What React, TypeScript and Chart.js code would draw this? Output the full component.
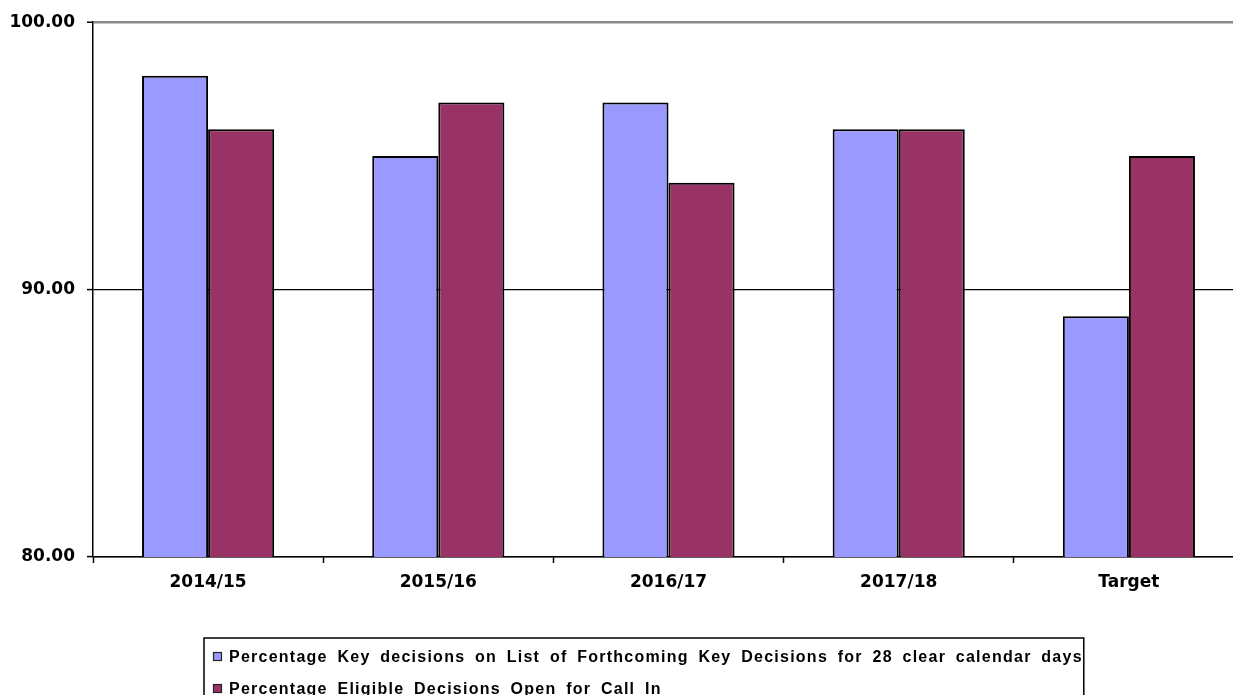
import React, { useEffect, useRef } from "react";
import { Chart, registerables, Plugin } from "chart.js";

Chart.register(...registerables);

const categories = ["2014/15", "2015/16", "2016/17", "2017/18", "Target"];
const keyDecisionsPct = [98, 95, 97, 96, 89];
const callInPct = [96, 97, 94, 96, 95];
const seriesLabels = [
  "Percentage Key decisions on List of Forthcoming Key Decisions for 28 clear calendar days",
  "Percentage Eligible Decisions Open for Call In",
];
const seriesColors = ["#9999FF", "#993366"];
const yMin = 80;
const yMax = 100;
const yStep = 10;

// Boxed legend drawn under the axis, one series per row.
const boxedLegend: Plugin<"bar"> = {
  id: "boxedLegend",
  afterDraw(chart) {
    const ctx = chart.ctx;
    ctx.save();
    ctx.font = 'bold 16px "Liberation Sans", Arial, sans-serif';
    (ctx as any).letterSpacing = "1.25px";
    (ctx as any).wordSpacing = "4px";
    ctx.textBaseline = "middle";
    ctx.textAlign = "left";
    const boxLeft = 204;
    const boxTop = 638;
    const swatchX = 213;
    const textX = 229;
    const rowY = [657, 689];
    let maxW = 0;
    chart.data.datasets.forEach((ds) => {
      maxW = Math.max(maxW, ctx.measureText(String(ds.label)).width);
    });
    const boxRight = textX + maxW + 1;
    ctx.strokeStyle = "#000";
    ctx.lineWidth = 1.5;
    ctx.strokeRect(boxLeft, boxTop, boxRight - boxLeft, 120);
    chart.data.datasets.forEach((ds, i) => {
      const y = rowY[i];
      ctx.fillStyle = String(ds.backgroundColor);
      ctx.fillRect(swatchX, y - 5, 9, 9);
      ctx.lineWidth = 1.2;
      ctx.strokeStyle = "#222";
      ctx.strokeRect(swatchX + 0.5, y - 4.5, 8, 8);
      ctx.fillStyle = "#000";
      ctx.fillText(String(ds.label), textX, y + 1);
    });
    ctx.restore();
  },
};

export default function App() {
  const canvasRef = useRef<HTMLCanvasElement | null>(null);

  useEffect(() => {
    if (!canvasRef.current) return;
    const chart = new Chart(canvasRef.current, {
      type: "bar",
      data: {
        labels: categories,
        datasets: [
          {
            label: seriesLabels[0],
            data: keyDecisionsPct,
            backgroundColor: seriesColors[0],
            borderColor: "#000",
            borderWidth: 2,
            borderSkipped: false,
          },
          {
            label: seriesLabels[1],
            data: callInPct,
            backgroundColor: seriesColors[1],
            borderColor: "#000",
            borderWidth: 2,
            borderSkipped: false,
          },
        ],
      },
      options: {
        animation: false,
        responsive: false,
        devicePixelRatio: 1,
        layout: { padding: { left: 0, right: 16, top: 21, bottom: 0 } },
        datasets: {
          bar: { categoryPercentage: 0.574, barPercentage: 1 },
        },
        plugins: {
          legend: { display: false },
          tooltip: { enabled: false },
        },
        scales: {
          x: {
            offset: true,
            grid: {
              offset: true,
              drawOnChartArea: false,
              drawTicks: true,
              tickLength: 6,
              tickColor: "#000",
              tickWidth: 1.5,
            },
            border: { color: "#000", width: 1.5 },
            ticks: {
              color: "#000",
              padding: 9,
              font: { family: '"DejaVu Sans", sans-serif', size: 17, weight: "bold" },
            },
            afterFit(scale) {
              scale.height = 695 - 557;
            },
          },
          y: {
            min: yMin,
            max: yMax,
            grid: {
              color: (c) => (c.tick && c.tick.value === yMax ? "#8a8a8a" : "#000"),
              lineWidth: (c) => (c.tick && c.tick.value === yMax ? 2.5 : 1.2),
              tickColor: "#000",
              tickLength: 6,
              tickWidth: 1.5,
            },
            border: { color: "#000", width: 1.5 },
            ticks: {
              stepSize: yStep,
              color: "#000",
              padding: 12,
              font: { family: '"DejaVu Sans", sans-serif', size: 17, weight: "bold" },
              callback: (v) => Number(v).toFixed(2),
            },
            afterFit(scale) {
              scale.width = 93;
            },
          },
        },
      },
      plugins: [boxedLegend],
    });
    return () => chart.destroy();
  }, []);

  return (
    <div
      style={{
        position: "fixed",
        left: 0,
        top: 0,
        width: 1233,
        height: 695,
        overflow: "hidden",
        background: "#fff",
      }}
    >
      <canvas ref={canvasRef} width={1260} height={695} style={{ display: "block" }} />
    </div>
  );
}
